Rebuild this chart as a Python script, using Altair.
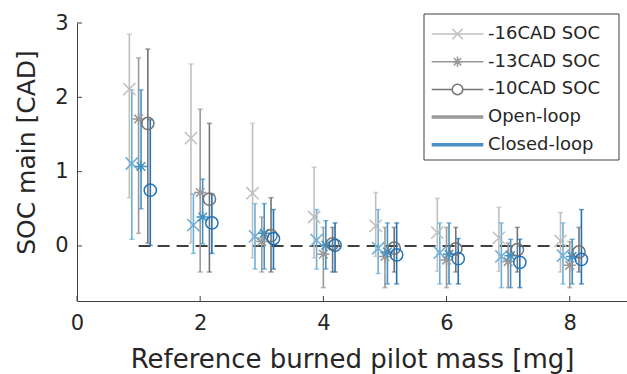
import altair as alt
import pandas as pd

# ---------------- data ----------------
masses = [1, 2, 3, 4, 5, 6, 7, 8]
series_names = ["OL-16", "CL-16", "OL-13", "CL-13", "OL-10", "CL-10"]
offsets = [-0.15, -0.11, 0.0, 0.04, 0.15, 0.19]
series_colors = ["#bfbfbf", "#6baed6", "#999999", "#4292c6", "#737373", "#2171b5"]
X_PATH = "M-1,-1L1,1M-1,1L1,-1"
STAR_PATH = "M-1,0L1,0M0,-1L0,1M-0.7,-0.7L0.7,0.7M-0.7,0.7L0.7,-0.7"
series_shapes = [X_PATH, X_PATH, STAR_PATH, STAR_PATH, "circle", "circle"]

mean_vals = {
    "OL-16": [2.11, 1.45, 0.71, 0.39, 0.27, 0.18, 0.11, 0.07],
    "CL-16": [1.11, 0.28, 0.13, 0.08, -0.03, -0.09, -0.14, -0.13],
    "OL-13": [1.71, 0.72, 0.06, -0.11, -0.14, -0.19, -0.21, -0.26],
    "CL-13": [1.07, 0.39, 0.17, 0.01, -0.08, -0.11, -0.13, -0.14],
    "OL-10": [1.65, 0.63, 0.14, 0.03, -0.03, -0.04, -0.05, -0.08],
    "CL-10": [0.75, 0.31, 0.10, 0.01, -0.12, -0.17, -0.22, -0.18],
}
hi_vals = {
    "OL-16": [2.85, 2.45, 1.65, 1.06, 0.72, 0.64, 0.52, 0.45],
    "CL-16": [2.10, 0.70, 0.57, 0.49, 0.49, 0.31, 0.31, 0.31],
    "OL-13": [2.53, 1.84, 0.39, 0.25, 0.25, 0.25, 0.04, 0.06],
    "CL-13": [2.10, 0.90, 0.57, 0.34, 0.31, 0.31, 0.09, 0.09],
    "OL-10": [2.65, 1.65, 0.65, 0.25, 0.25, 0.25, 0.25, 0.25],
    "CL-10": [1.70, 0.70, 0.49, 0.31, 0.31, 0.10, 0.09, 0.49],
}
lo_vals = {
    "OL-16": [0.65, 0.04, -0.16, -0.16, -0.14, -0.34, -0.34, -0.35],
    "CL-16": [0.09, -0.10, -0.31, -0.31, -0.37, -0.51, -0.56, -0.51],
    "OL-13": [0.17, -0.35, -0.35, -0.56, -0.56, -0.56, -0.56, -0.56],
    "CL-13": [0.50, 0.03, -0.31, -0.31, -0.51, -0.51, -0.56, -0.51],
    "OL-10": [0.04, -0.35, -0.35, -0.35, -0.35, -0.35, -0.35, -0.35],
    "CL-10": [0.01, -0.10, -0.31, -0.35, -0.51, -0.51, -0.56, -0.51],
}

x_ticks = [0, 2, 4, 6, 8]
y_ticks = [0, 1, 2, 3]

legend_labels = ["-16CAD SOC", "-13CAD SOC", "-10CAD SOC", "Open-loop", "Closed-loop"]
legend_colors = ["#bfbfbf", "#999999", "#737373", "#999999", "#4a90c8"]
legend_widths = [1.5, 1.5, 1.5, 3.5, 3.5]
legend_shapes = [X_PATH, STAR_PATH, "circle", "", ""]

# ---------------- build tables ----------------
rows = []
for s, off, col, shp in zip(series_names, offsets, series_colors, series_shapes):
    for i, m in enumerate(masses):
        rows.append(dict(series=s, x=m + off, y=mean_vals[s][i], hi=hi_vals[s][i],
                         lo=lo_vals[s][i], color=col, shape=shp))
df = pd.DataFrame(rows)

leg = pd.DataFrame(dict(row=list(range(len(legend_labels))), label=legend_labels,
                        color=legend_colors, width=legend_widths, shape=legend_shapes))

W, H = 550, 278
FONT = "DejaVu Sans"

xs = alt.Scale(domain=[0, 8.93], nice=False, zero=False)
ys = alt.Scale(domain=[-0.74, 3], nice=False, zero=False)

base = alt.Chart(df)

zero_line = alt.Chart(pd.DataFrame({"a": [0]})).mark_rule(
    color="black", strokeWidth=1.3, strokeDash=[12, 7]
).encode(x=alt.datum(1, scale=xs), x2=alt.datum(8), y=alt.datum(0, scale=ys))

bars = base.mark_rule(strokeWidth=1.6).encode(
    x=alt.X("x:Q", scale=xs, axis=alt.Axis(values=x_ticks, format="d", labelFlush=False,
                                          title="Reference burned pilot mass [mg]",
                                          grid=False, ticks=False, labelPadding=11,
                                          titleY=66, titleBaseline="alphabetic")),
    y=alt.Y("lo:Q", scale=ys, axis=alt.Axis(values=y_ticks, format="d", labelFlush=False,
                                           title="SOC main [CAD]", titleFontSize=25,
                                           grid=False, ticks=False, labelPadding=9, titleX=-43,
                                           titleY=H / 2 - 10, titleAngle=270,
                                           titleBaseline="alphabetic", titleAlign="center")),
    y2="hi:Q",
    color=alt.Color("color:N", scale=None),
)
cap_hi = base.mark_tick(orient="horizontal", size=5, thickness=1.5).encode(
    x=alt.X("x:Q", scale=xs), y=alt.Y("hi:Q", scale=ys), color=alt.Color("color:N", scale=None))
cap_lo = base.mark_tick(orient="horizontal", size=5, thickness=1.5).encode(
    x=alt.X("x:Q", scale=xs), y=alt.Y("lo:Q", scale=ys), color=alt.Color("color:N", scale=None))
pts = base.mark_point(filled=False, size=150, strokeWidth=1.5, opacity=1).encode(
    x=alt.X("x:Q", scale=xs), y=alt.Y("y:Q", scale=ys),
    color=alt.Color("color:N", scale=None), shape=alt.Shape("shape:N", scale=None))

xtick_marks = alt.Chart(pd.DataFrame({"t": x_ticks})).mark_rule(color="#404040", strokeWidth=1).encode(
    x=alt.X("t:Q", scale=xs), y=alt.value(H), y2=alt.value(H - 5))
ytick_marks = alt.Chart(pd.DataFrame({"t": y_ticks})).mark_rule(color="#404040", strokeWidth=1).encode(
    y=alt.Y("t:Q", scale=ys), x=alt.value(0), x2=alt.value(5))

# ---------------- legend ----------------
lg = alt.Chart(leg).transform_calculate(py="11 + datum.row * 27.7")
leg_box = alt.Chart(pd.DataFrame({"a": [0]})).mark_rect(
    fill="white", stroke="#404040", strokeWidth=1
).encode(x=alt.value(347), x2=alt.value(542), y=alt.value(-9), y2=alt.value(137))
leg_lines = lg.mark_rule().encode(
    x=alt.value(354.7), x2=alt.value(406.3), y=alt.Y("py:Q", scale=None),
    color=alt.Color("color:N", scale=None), strokeWidth=alt.StrokeWidth("width:Q", scale=None))
leg_pts = lg.transform_filter("datum.shape != ''").mark_point(
    filled=False, size=110, strokeWidth=1.5, opacity=1, fill="white"
).encode(x=alt.value(380.5), y=alt.Y("py:Q", scale=None),
         color=alt.Color("color:N", scale=None), shape=alt.Shape("shape:N", scale=None))
leg_text = lg.mark_text(align="left", baseline="middle", font=FONT, fontSize=18, color="#262626").encode(
    x=alt.value(411), y=alt.Y("py:Q", scale=None), text="label:N")

chart = alt.layer(
    zero_line, bars, cap_hi, cap_lo, pts, xtick_marks, ytick_marks,
    leg_box, leg_lines, leg_pts, leg_text
).properties(
    width=W, height=H,
    padding={"left": 77, "top": 23, "right": 0, "bottom": 73},
    autosize=alt.AutoSizeParams(type="none"),
).configure_view(stroke=None).configure_axis(
    domainColor="#404040", domainWidth=1, labelColor="#262626", titleColor="#262626",
    labelFont=FONT, titleFont=FONT, labelFontSize=21, titleFontSize=26, titleFontWeight="normal",
)

chart.save("out.html", embed_options={"renderer": "svg", "actions": False})
